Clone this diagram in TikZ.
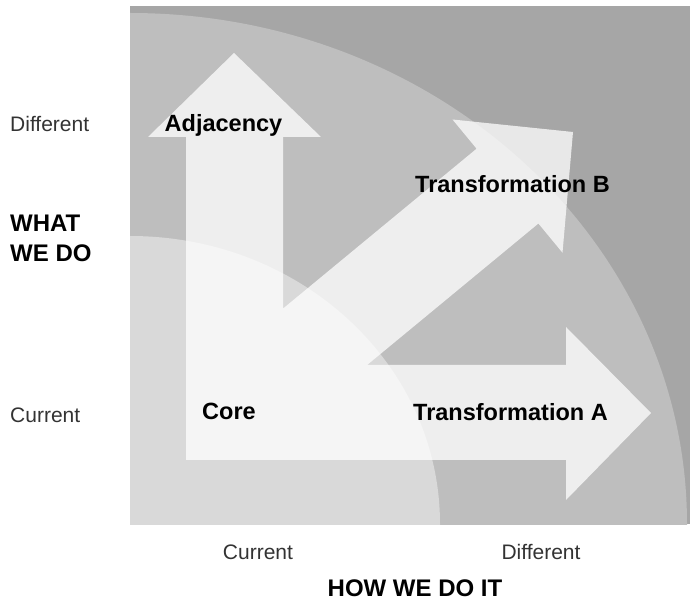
\documentclass[tikz,border=0pt]{standalone}
\usepackage{fontspec}
\setmainfont{Liberation Sans}
\definecolor{bgdark}{HTML}{A6A6A6}
\definecolor{bgmid}{HTML}{BEBEBE}
\definecolor{bglight}{HTML}{D9D9D9}
\tikzset{
  ticklbl/.style={font=\fontsize{21}{25}\selectfont, text=black!80, inner sep=0pt},
  axislbl/.style={font=\fontsize{24}{30}\selectfont\bfseries, align=left, inner sep=0pt},
  arrowlbl/.style={font=\fontsize{23.5}{28}\selectfont\bfseries, inner sep=0pt},
}
\begin{document}
\begin{tikzpicture}[x=1pt,y=-1pt] % pixel-like units, y pointing down
        \useasboundingbox (0,0) rectangle (691,601);
        % background square and the two quarter rings
        \fill[bgdark] (130,6) rectangle (690,524);
        \begin{scope}
            \clip (130,6) rectangle (690,524);
            \fill[bgmid] (130,524) ellipse [x radius=557, y radius=511];
            \fill[bglight] (130,524) ellipse [x radius=310, y radius=288];
        \end{scope}

        % arrows: L shape (up + right) and the diagonal one, one path so overlaps stay even
        \fill[white, fill opacity=0.75]
            (186,460) -- (186,137) -- (148,137) -- (234,53) -- (321,137) -- (283,137)
            -- (283,365) -- (566,365) -- (566,327) -- (651,413) -- (566,500) -- (566,460) -- cycle
            (203.1,374.6) -- (476.6,148.7) -- (452.5,119.5) -- (573,132)
            -- (562.5,252.7) -- (538.4,223.5) -- (264.9,449.4) -- cycle;

        % labels on the arrows
        \node[arrowlbl, anchor=base] (adjacency) at (223.5,132) {Adjacency};
        \node[arrowlbl, anchor=base west] (transB) at (415,193) {Transformation B};
        \node[arrowlbl, anchor=base west] (core) at (202,420) {Core};
        \node[arrowlbl, anchor=base west] (transA) at (413,421) {Transformation A};

        % axes
        \node[ticklbl, anchor=base west] (ydiff) at (10,132) {Different};
        \node[ticklbl, anchor=base west] (ycur) at (10,423) {Current};
        \node[axislbl, anchor=base west] (whatlbl) at (10,262) {WHAT\\WE DO};
        \node[ticklbl, anchor=base] (xcur) at (258,559) {Current};
        \node[ticklbl, anchor=base] (xdiff) at (541,559) {Different};
        \node[axislbl, anchor=base] (howlbl) at (415,596) {HOW WE DO IT};
    \end{tikzpicture}
\end{document}
